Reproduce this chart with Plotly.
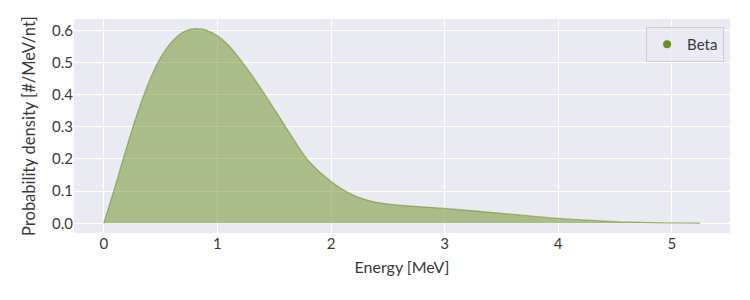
import plotly.graph_objects as go

energy = [0, 0.1, 0.2, 0.3, 0.4, 0.5, 0.6, 0.7, 0.8, 0.9, 1.0, 1.1, 1.2, 1.3,
          1.4, 1.5, 1.6, 1.7, 1.8, 2.0, 2.2, 2.4, 2.6, 2.8, 3.0, 3.5, 4.0, 4.5, 5.0, 5.25]
density = [0, 0.115, 0.235, 0.347, 0.442, 0.515, 0.565, 0.595, 0.605, 0.601,
           0.583, 0.553, 0.510, 0.462, 0.41, 0.355, 0.30, 0.245, 0.195, 0.13, 0.087,
           0.065, 0.056, 0.051, 0.046, 0.031, 0.015, 0.005, 0.001, 0.0]
series_name = "Beta"

font_family = "Lato, 'DejaVu Sans', sans-serif"
text_color = "#3a3a3a"

fig = go.Figure()
fig.add_trace(go.Scatter(
    x=energy, y=density, mode="lines", fill="tozeroy",
    fillcolor="rgba(107,142,35,0.5)",
    line=dict(color="rgba(107,142,35,0.55)", width=1.3, shape="spline", smoothing=0.8),
    showlegend=False, hoverinfo="skip",
))
fig.add_trace(go.Scatter(
    x=[None], y=[None], mode="markers", name=series_name,
    marker=dict(color="#6b8e23", size=8),
))

fig.update_layout(
    width=750, height=300,
    margin=dict(l=74, r=20, t=19, b=67),
    paper_bgcolor="white", plot_bgcolor="#eaeaf2",
    font=dict(family=font_family, size=15, color=text_color),
    legend=dict(x=0.991, y=0.963, xanchor="right", yanchor="top",
                bgcolor="rgba(234,234,242,0.8)", bordercolor="#cccccc",
                borderwidth=1, font=dict(size=15), itemwidth=30),
    xaxis=dict(range=[-0.2625, 5.5125], dtick=1, tick0=0,
               showgrid=True, gridcolor="white", gridwidth=1.3,
               zeroline=False, showline=False, ticks="",
               title=dict(text="Energy [MeV]", standoff=10, font=dict(size=16)),
               tickfont=dict(size=15)),
    yaxis=dict(range=[-0.0303, 0.6353], dtick=0.1, tick0=0, tickformat=".1f",
               showgrid=True, gridcolor="white", gridwidth=1.3,
               zeroline=False, showline=False, ticks="",
               title=dict(text="Probability density [#/MeV/nt]", standoff=12,
                          font=dict(size=16.5)),
               tickfont=dict(size=15)),
)

fig.write_html("out.html")
